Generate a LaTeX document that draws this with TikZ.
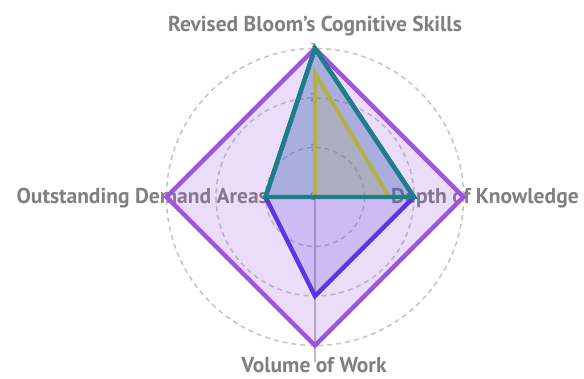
\documentclass[tikz,border=0pt]{standalone}
\usepackage{fontspec}
\setmainfont{PT Sans}
\definecolor{labgray}{RGB}{128,128,128}
\definecolor{gridgray}{RGB}{196,196,196}
\definecolor{axgray}{RGB}{185,185,190}
\definecolor{cpurple}{RGB}{157,85,224}
\definecolor{cblue}{RGB}{91,52,230}
\definecolor{cteal}{RGB}{27,127,134}
\definecolor{cyellow}{RGB}{218,190,50}
\begin{document}
\begin{tikzpicture}[x=1pt,y=-1pt,
  lab/.style={inner sep=0pt,text=labgray,font=\fontsize{21.5}{24}\selectfont\bfseries},
  tick/.style={inner sep=0pt,text=labgray,font=\fontsize{11}{13}\selectfont},
  grid/.style={draw=gridgray,line width=1.5pt,dash pattern=on 5pt off 4pt},
  trace/.style={line width=4.4pt,fill opacity=0.2}]
\useasboundingbox (0,0) rectangle (584,378);
\coordinate (C) at (315,197);
% grid circles
\draw[grid] (C) circle (49.5);
\draw[grid] (C) circle (99);
\draw[grid] (C) circle (148.5);
% radial axis
\draw[axgray,line width=1.2pt] (C) -- (315,362);
% tick labels
\node[tick] (t0) at (313,197) {0};
\node[tick] (t1) at (313,148) {1};
\node[tick] (t2) at (313,98) {2};
\node[tick] (t3) at (313,48) {3};
% axis labels
\node[lab] (ltop) at (315,26) {Revised Bloom\symbol{39}s Cognitive Skills};
\node[lab,anchor=east] (lleft) at (268,198) {Outstanding Demand Areas};
\node[lab,anchor=west] (lright) at (391,198) {Depth of Knowledge};
\node[lab] (lbottom) at (314,365) {Volume of Work};
% traces
\draw[trace,draw=cpurple,fill=cpurple] (315,48.5) -- (463.5,197) -- (315,345.5) -- (166.5,197) -- cycle;
\draw[trace,draw=cblue,fill=cblue] (315,48.5) -- (414,197) -- (315,296) -- (265.5,197) -- cycle;
\draw[trace,draw=cyellow,fill=cyellow,line width=3.8pt] (315,73.25) -- (389.25,197) -- (315,197) -- (315,197) -- cycle;
\draw[trace,draw=cteal,fill=cteal] (315,48.5) -- (414,197) -- (315,197) -- (265.5,197) -- cycle;
\end{tikzpicture}
\end{document}
